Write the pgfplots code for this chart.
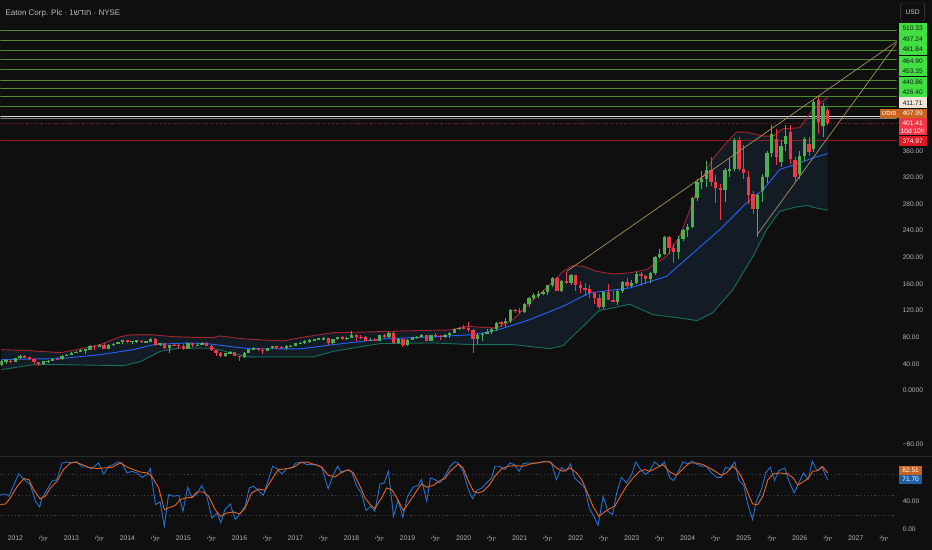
\documentclass[border=0pt]{standalone}
\usepackage{fontspec}
\setmainfont{Liberation Sans}
\usepackage{pgfplots}
\pgfplotsset{compat=1.18}
\usepackage{pgfplotstable}
\TeXXeTstate=1
\definecolor{bg}{HTML}{0F0F0F}
\definecolor{cup}{HTML}{4CAF50}
\definecolor{cdn}{HTML}{F23645}
\definecolor{bbup}{HTML}{A3262F}
\definecolor{bbmid}{HTML}{2962FF}
\definecolor{bblow}{HTML}{17705F}
\definecolor{bbfill}{HTML}{131B25}
\definecolor{hgreen}{HTML}{4F8A2C}
\definecolor{trend}{HTML}{A8915E}
\definecolor{tlabel}{HTML}{B2B5BE}
\definecolor{stk}{HTML}{2470D0}
\definecolor{std}{HTML}{E8651C}
\definecolor{lgreen}{HTML}{3FE03F}
\definecolor{pale}{HTML}{F3E4DA}
\definecolor{obox}{HTML}{C8641E}
\definecolor{rbox}{HTML}{F23645}
\definecolor{drbox}{HTML}{DD1A22}
\definecolor{redline}{HTML}{8B1E22}
\definecolor{sepc}{HTML}{2A2A2A}
\definecolor{dotc}{HTML}{3C3F47}
\definecolor{kbox}{HTML}{1F5FA8}
\newcommand\heb{\beginR יולי\endR}

\pgfplotstableread{
k o h l c
-3 38.5 46.0 37.0 44.8
-2 44.8 47.0 40.5 45.2
-1 45.2 46.0 41.5 43.5
0 43.5 49.5 43.0 49.0
1 49.0 53.0 48.0 52.2
2 52.2 54.0 48.7 49.8
3 49.8 50.5 45.5 48.2
4 48.2 48.5 39.5 42.5
5 42.5 43.0 36.5 39.6
6 39.6 44.5 38.0 44.0
7 44.0 46.5 42.0 44.8
8 44.8 49.0 44.0 47.3
9 47.3 50.0 45.5 47.0
10 47.0 53.0 46.0 52.5
11 52.5 55.0 51.5 54.2
12 54.2 58.0 53.5 57.2
13 57.2 60.0 56.0 58.5
14 58.5 62.0 57.5 61.3
15 61.3 63.0 55.5 61.6
16 61.6 69.0 60.5 67.0
17 67.0 69.0 60.5 65.8
18 65.8 70.5 65.0 69.0
19 69.0 71.0 62.5 63.2
20 63.2 69.5 62.5 68.8
21 68.8 72.0 66.5 70.5
22 70.5 73.5 69.5 72.7
23 72.7 76.5 70.5 76.1
24 76.1 76.5 71.0 73.2
25 73.2 75.0 69.5 74.5
26 74.5 76.5 72.0 75.1
27 75.1 75.5 71.5 72.6
28 72.6 75.0 71.0 73.7
29 73.7 79.0 73.0 77.2
30 77.2 79.5 67.7 67.9
31 67.9 71.5 66.5 70.9
32 70.9 71.5 62.5 63.4
33 63.4 69.0 57.0 68.4
34 68.4 69.5 66.5 67.9
35 67.9 70.5 62.5 67.6
36 67.6 69.5 61.5 63.1
37 63.1 71.5 62.5 71.1
38 71.1 71.5 66.0 67.9
39 67.9 71.0 67.0 68.7
40 68.7 72.5 68.0 71.7
41 71.7 72.5 67.0 67.5
42 67.5 69.0 59.5 60.6
43 60.6 61.5 52.5 57.1
44 57.1 58.0 50.0 51.3
45 51.3 57.0 50.5 55.9
46 55.9 59.0 55.5 58.1
47 58.1 58.5 51.5 52.0
48 52.0 52.5 44.5 50.6
49 50.6 57.5 48.5 57.1
50 57.1 63.0 56.5 62.6
51 62.6 65.0 60.5 63.3
52 63.3 64.0 59.5 61.6
53 61.6 63.5 55.5 59.7
54 59.7 64.0 59.0 63.4
55 63.4 67.5 62.5 66.6
56 66.6 67.5 62.5 65.7
57 65.7 67.0 62.5 63.8
58 63.8 68.0 61.0 67.0
59 67.0 69.0 66.0 67.1
60 67.1 72.0 66.8 70.8
61 70.8 73.0 69.5 71.6
62 71.6 75.5 70.5 74.1
63 74.1 77.0 72.0 75.6
64 75.6 78.0 74.5 77.5
65 77.5 79.5 76.0 77.8
66 77.8 80.0 76.5 78.3
67 78.3 78.5 69.0 71.8
68 71.8 77.0 70.5 76.8
69 76.8 81.0 75.5 80.0
70 80.0 81.5 76.5 78.0
71 78.0 81.0 76.5 79.0
72 79.0 89.8 78.5 84.0
73 84.0 85.0 74.0 80.7
74 80.7 83.5 77.0 79.9
75 79.9 81.5 74.0 75.0
76 75.0 79.0 74.5 76.6
77 76.6 79.0 73.8 74.7
78 74.7 84.0 74.0 83.2
79 83.2 84.5 79.0 79.8
80 79.8 87.5 79.5 86.7
81 86.7 89.0 70.5 71.7
82 71.7 79.0 70.5 76.8
83 76.8 77.5 65.0 68.7
84 68.7 77.0 67.5 76.2
85 76.2 81.0 75.5 80.3
86 80.3 82.0 78.0 80.6
87 80.6 85.0 80.0 82.8
88 82.8 84.0 74.0 74.5
89 74.5 84.0 74.0 83.3
90 83.3 86.5 79.5 82.2
91 82.2 83.0 76.0 80.7
92 80.7 85.0 78.5 83.2
93 83.2 87.5 79.0 87.1
94 87.1 93.0 86.0 92.5
95 92.5 95.5 91.0 94.7
96 94.7 98.0 92.0 94.5
97 94.5 102.5 88.5 90.7
98 90.7 92.0 56.5 77.7
99 77.7 86.0 70.5 83.6
100 83.6 86.5 75.0 85.0
101 85.0 93.0 84.5 87.5
102 87.5 94.0 85.5 93.1
103 93.1 103.0 89.0 102.2
104 102.2 105.0 96.0 101.6
105 101.6 109.0 96.0 103.8
106 103.8 122.0 101.0 121.1
107 121.1 123.0 117.0 120.1
108 120.1 123.5 115.0 117.6
109 117.6 131.0 116.0 130.2
110 130.2 141.0 126.0 138.3
111 138.3 146.0 136.0 142.9
112 142.9 150.0 139.0 145.2
113 145.2 151.0 143.0 148.2
114 148.2 158.5 143.5 158.0
115 158.0 170.0 156.0 168.6
116 168.6 171.0 149.0 149.3
117 149.3 166.0 148.0 164.8
118 164.8 178.0 160.0 162.0
119 162.0 175.7 159.0 172.8
120 172.8 173.0 150.0 158.3
121 158.3 165.0 146.0 154.3
122 154.3 162.0 142.0 151.8
123 151.8 158.0 139.0 145.8
124 145.8 148.0 130.0 138.6
125 138.6 144.5 122.5 126.0
126 126.0 150.0 123.0 148.4
127 148.4 159.5 136.0 136.7
128 136.7 150.0 133.0 133.4
129 133.4 152.0 129.0 150.1
130 150.1 165.0 146.0 163.5
131 163.5 169.0 153.5 157.0
132 157.0 166.0 155.0 162.0
133 162.0 178.0 160.0 175.0
134 175.0 178.0 157.0 171.3
135 171.3 174.0 160.0 167.0
136 167.0 178.0 162.0 176.0
137 176.0 202.0 174.0 201.0
138 201.0 212.0 197.0 205.0
139 205.0 231.5 203.0 230.6
140 230.6 232.0 205.0 213.3
141 213.3 220.0 191.0 208.0
142 208.0 232.0 197.0 227.7
143 227.7 242.0 224.0 240.8
144 240.8 250.0 231.0 246.0
145 246.0 291.0 244.0 289.0
146 289.0 318.0 284.0 312.7
147 312.7 329.0 303.0 318.3
148 318.3 345.0 306.0 331.0
149 331.0 350.0 307.0 313.6
150 313.6 323.0 282.0 304.8
151 304.8 310.0 256.0 300.5
152 300.5 334.0 283.0 330.5
153 330.5 349.0 320.0 333.0
154 333.0 379.0 330.0 376.0
155 376.0 380.0 330.0 332.0
156 332.0 369.0 318.0 326.0
157 320.0 330.0 280.0 293.0
158 295.0 300.0 265.0 272.0
159 272.0 296.0 231.0 294.0
160 300.0 325.0 283.0 321.0
161 321.0 359.0 311.0 357.0
162 357.0 399.0 350.0 385.0
163 378.0 392.0 338.0 350.0
164 343.0 376.0 335.0 367.0
165 370.0 399.0 360.0 382.0
166 388.0 399.0 340.0 347.0
167 346.0 350.0 315.0 320.0
168 325.0 360.0 318.0 352.0
169 352.0 380.0 345.0 377.0
170 370.0 380.0 352.0 358.0
171 362.0 436.0 358.0 433.0
172 436.0 442.0 385.0 403.0
173 397.0 432.0 380.0 427.0
174 421.0 424.0 398.0 401.4
}\candles

\pgfplotstableread{
k v
-3 61.6
3 60
9.6 57
13.2 61.6
18.2 69
22.5 81
24.6 83.6
29.6 83.6
33.9 81
38 80
42.4 79.6
43.9 82.1
48.2 78.1
53 76
57.4 74.6
61 79.6
65.3 84
68.1 87
75.3 88
82.4 89.5
88.8 90.5
93.1 91
96.7 96.6
100 95
103.1 94
106.6 106.6
110.2 131.7
114.5 159
117.3 179
119.4 187.7
121.6 186.7
124.5 179
128 175
131.6 176.7
135.2 181.7
139.5 201.7
142.3 231.7
144.5 271.8
146.6 312
149.3 347
152.3 372
154.5 388
156.6 388
160.2 382
162.3 382
164.4 393
168 394.5
170.9 422
174 441
}\bbupper

\pgfplotstableread{
k v
-3 46.5
3.9 47.5
9.6 48
18.2 54
25.3 61.6
29.6 69
36.7 71.6
41 70.6
46.7 65.6
50.3 63
61 62.6
68.1 69
78.8 77.6
88.8 80.5
98.1 84
103.1 90.5
110.2 106.6
117.3 126.6
123 146.7
131.6 154
139.5 171.6
145.2 206.8
150.9 241.7
156.6 281.8
160.2 301.8
163.7 331.8
168 341.9
170.9 349.4
174 355.6
}\bbbasis

\pgfplotstableread{
k v
-3 31.5
3.9 39
9.6 39
23.2 37.5
26.8 43.6
31 59
35.3 64
42.4 63.5
46.7 55.6
49.6 50.6
63.9 50.6
68.1 59
78.1 70.6
89.5 71.6
98.1 69
106.6 69
114.5 63
117.3 67.6
121.6 96.6
125 120
131.6 129.5
136.6 114
142.3 109
146 105
149.3 116.7
153.7 151.6
158 201.7
160.9 241.7
163.7 269
167.3 275.8
169.8 277.8
170.9 275
174 270.7
}\bblower

% band outline: upper band forward, then lower band backward (for the fill)
\pgfplotstableread{
k v
-3 61.6
3 60
9.6 57
13.2 61.6
18.2 69
22.5 81
24.6 83.6
29.6 83.6
33.9 81
38 80
42.4 79.6
43.9 82.1
48.2 78.1
53 76
57.4 74.6
61 79.6
65.3 84
68.1 87
75.3 88
82.4 89.5
88.8 90.5
93.1 91
96.7 96.6
100 95
103.1 94
106.6 106.6
110.2 131.7
114.5 159
117.3 179
119.4 187.7
121.6 186.7
124.5 179
128 175
131.6 176.7
135.2 181.7
139.5 201.7
142.3 231.7
144.5 271.8
146.6 312
149.3 347
152.3 372
154.5 388
156.6 388
160.2 382
162.3 382
164.4 393
168 394.5
170.9 422
174 441
174 270.7
170.9 275
169.8 277.8
167.3 275.8
163.7 269
160.9 241.7
158 201.7
153.7 151.6
149.3 116.7
146 105
142.3 109
136.6 114
131.6 129.5
125 120
121.6 96.6
117.3 67.6
114.5 63
106.6 69
98.1 69
89.5 71.6
78.1 70.6
68.1 59
63.9 50.6
49.6 50.6
46.7 55.6
42.4 63.5
35.3 64
31 59
26.8 43.6
23.2 37.5
9.6 39
3.9 39
-3 31.5
}\bbband

\pgfplotstableread{
k v
-3.2 50.5
-2.1 51.5
-1.4 48
0.7 81
1.4 76
3.2 65
4.3 40.6
5.2 32.3
5.7 45.6
6.8 57.9
7.8 70
8.9 72.6
10.0 97.2
11.1 98.7
12.1 97.2
13.2 98.7
14.3 91.3
15.3 91.3
16.4 88.8
17.8 97.2
18.9 81
20.0 92.3
21.0 94.7
22.1 98.7
22.8 97.2
23.9 82.5
25.0 84.9
26.0 82.5
27.1 76
28.2 80
28.9 88.8
30.0 35.7
31.0 39.7
31.9 3.8
32.8 50.5
33.9 48
35.0 49.5
35.9 25.9
36.9 61.3
37.8 45.6
38.9 51.5
39.9 63.8
41.0 48
42.1 16
43.2 23.4
44.0 8.7
44.9 28.3
46.0 36.7
47.1 13.6
48.1 21.9
49.2 33.3
50.1 60.3
51.0 62.8
52.1 56.4
53.1 49.5
54.2 72.6
55.1 92.3
56.0 88.8
57.1 81
58.1 88.8
59.2 89.8
60.1 97.2
61.3 98.7
62.4 94.7
63.5 94.7
64.5 94.7
65.6 90.8
67.0 59.3
68.1 80
69.0 92.3
69.9 82.5
71.0 86.4
72.0 84.9
73.1 62.8
74.2 51.5
75.1 26.9
76.1 33.3
77.0 25.9
78.1 66.2
79.0 67.7
79.9 84.9
81.0 18.5
82.0 42.1
83.0 17
84.0 48
85.2 61.3
86.3 64.3
87.0 72.6
88.1 40.6
88.9 75
89.9 72.6
90.9 67.7
92.0 77.5
93.1 92.3
94.1 98.7
94.8 97.2
95.9 84.9
96.9 60.3
97.9 44.6
98.8 56.4
99.9 60.3
100.9 67.7
102.0 75
102.7 92.3
103.8 92.3
104.8 87.4
105.9 97.2
106.9 94.7
107.9 84.9
108.8 96.2
109.8 97.2
110.9 97.2
112.0 97.2
113.1 99.7
114.1 99.7
114.8 97.2
115.9 72.6
117.0 90.8
117.9 84.9
118.9 95.7
119.8 75
120.9 67.7
122.0 60.3
122.9 30.8
123.9 18.5
124.8 5.2
125.9 48
126.9 25.9
127.9 21
128.8 53
129.8 76
130.9 67.7
132.0 80
132.9 98.7
133.9 87.4
135.0 80
135.9 85.9
136.9 98.7
138.0 92.3
139.0 98.7
140.2 75
141.0 71.1
142.2 87.4
143.0 98.7
144.1 95.7
145.0 99.7
145.9 95.7
146.9 92.3
148.0 92.3
149.1 82.5
150.2 76
151.2 76
152.1 90.8
153.0 88.8
154.1 98.7
154.9 72.6
156.0 64.3
156.9 35.7
157.9 13.6
158.7 40.6
159.8 57.9
160.7 82.5
161.7 90.8
162.6 71.1
163.5 85.9
164.8 89.8
165.7 70.2
166.8 53
167.8 67.7
168.8 82.5
169.8 72.6
170.7 99.7
171.7 85.9
172.8 90.8
174.0 71.7
}\stochk

\pgfplotstableread{
k v
-3.2 35.7
-2.1 36.7
-1.1 45.6
0.4 62.8
1.8 74.1
2.9 72.6
3.9 57.9
5.3 44.1
6.4 48
7.5 60.3
8.9 70
10.3 87.4
11.8 97.2
12.8 98.7
14.3 94.7
15.7 90.8
17.5 88.8
18.9 89.8
20.7 90.8
22.5 97.2
23.9 91.3
25.3 87.4
26.7 83.9
28.2 82.5
29.2 77.5
30.7 60.3
31.9 28.3
33.2 31.8
34.2 34.3
35.3 43.1
36.4 45.6
37.8 46.5
38.9 54.4
40.3 54.4
41.4 48
42.8 28.3
43.9 18.5
45.3 23.4
46.7 24.9
48.1 21.9
49.2 30.8
50.6 53
52.1 58.8
53.5 56.9
54.9 72.6
56.3 87.4
57.8 88.4
59.6 90.8
61.0 97.2
62.4 98.7
64.2 94.7
65.6 91.3
67.0 79
68.5 76.5
69.9 83.9
71.3 87.4
72.4 82.5
73.5 67.7
74.9 45.6
76.0 35.7
77.0 29.8
78.5 46.5
79.5 60.3
80.6 57.9
81.7 45.6
83.1 26.9
84.5 40.6
85.9 55.4
87.0 66.2
88.1 61.3
89.5 64.3
90.9 71.1
92.0 74.1
93.1 84.9
94.9 95.7
95.9 89.8
96.9 72.6
98.1 55.4
99.1 52.9
100.2 55.4
101.6 65.2
102.7 77.5
104.2 88.8
105.6 92.3
107.0 93.3
108.8 92.3
110.2 95.7
111.6 97.2
113.1 98.7
114.5 98.7
115.9 89.8
117.3 84.9
118.8 89.8
120.2 82.5
121.3 72.6
122.7 50.5
123.7 33.3
125.0 18.5
126.2 24.9
127.3 29.8
128.4 33.3
129.8 50.5
130.9 62.8
132.3 75
133.7 84.9
134.8 87.4
135.9 84.9
137.3 89.8
138.7 94.7
140.2 83.9
141.6 79
143.0 88.8
144.4 97.2
145.9 97.2
147.3 94.7
148.7 89.8
150.1 83.9
151.2 79
152.3 82.5
153.7 92.3
154.8 84.9
155.8 72.6
156.9 52.9
157.9 36.7
159.0 35.7
160.1 48
161.2 72.6
162.3 81
163.7 82.5
165.5 81
166.6 75
167.6 64.3
168.7 69.2
169.8 74.1
170.8 84.9
171.9 85.9
172.8 92.3
174.0 82.5
}\stochd

\pgfplotsset{
  candle/.style n args={2}{draw=none, no markers, forget plot,
    error bars/.cd, y dir=both, y explicit, error mark=none,
    error bar style={line width=#2, draw=#1, solid}},
  hline/.style={forget plot, no markers, line width=0.8pt, #1},
}

\begin{document}
\begin{tikzpicture}[x=1pt,y=1pt]
\fill[bg] (0,0) rectangle (932,550);
\draw[sepc, line width=0.8pt] (0,93) -- (932,93);

% ---------- main price pane ----------
\begin{axis}[
  at={(0pt,94pt)}, anchor=south west, scale only axis,
  width=897pt, height=456pt,
  xmin=-3.21, xmax=188.76, ymin=-97.5, ymax=586.2,
  axis line style={draw=none}, tick style={draw=none},
  xtick=\empty,
  ytick={360,320,280,240,200,160,120,80,40,0,-80},
  yticklabels={360.00,320.00,280.00,240.00,200.00,160.00,120.00,80.00,40.00,0.0000,−80.00},
  ytick pos=right, yticklabel pos=right,
  yticklabel style={anchor=west, xshift=6pt, inner sep=0pt,
    font=\fontsize{6.6}{8}\selectfont, text=tlabel},
  clip=true,
]
% Bollinger band fill (closed outline of the band)
\addplot[fill=bbfill, draw=none, no markers, forget plot] table[x=k, y=v]{\bbband} -- cycle;
% horizontal levels
\addplot[hline=hgreen] coordinates {(-3.21,540) (188.76,540)};
\addplot[hline=hgreen] coordinates {(-3.21,526) (188.76,526)};
\addplot[hline=hgreen] coordinates {(-3.21,510.33) (188.76,510.33)};
\addplot[hline=hgreen] coordinates {(-3.21,497.24) (188.76,497.24)};
\addplot[hline=hgreen] coordinates {(-3.21,481.84) (188.76,481.84)};
\addplot[hline=hgreen] coordinates {(-3.21,464.90) (188.76,464.90)};
\addplot[hline=hgreen] coordinates {(-3.21,453.35) (188.76,453.35)};
\addplot[hline=hgreen] coordinates {(-3.21,440.86) (188.76,440.86)};
\addplot[hline=hgreen] coordinates {(-3.21,426.40) (188.76,426.40)};
\addplot[hline={color=white!85!black}] coordinates {(-3.21,411.71) (188.76,411.71)};
\addplot[hline={color=gray}] coordinates {(-3.21,407.99) (188.76,407.99)};
\addplot[hline={color=cdn!60!black, dotted}] coordinates {(-3.21,401.41) (188.76,401.41)};
\addplot[hline=redline] coordinates {(-3.21,374.97) (188.76,374.97)};
% Bollinger lines
\addplot[forget plot, no markers, draw=bbup, line width=0.9pt] table[x=k, y=v]{\bbupper};
\addplot[forget plot, no markers, draw=bblow, line width=0.9pt] table[x=k, y=v]{\bblower};
\addplot[forget plot, no markers, draw=bbmid, line width=0.9pt] table[x=k, y=v]{\bbbasis};
% candles: wicks
\addplot[candle={cup}{0.8pt}] table[x=k,
  y expr={\thisrow{c}>=\thisrow{o} ? (\thisrow{h}+\thisrow{l})/2 : nan},
  y error expr={(\thisrow{h}-\thisrow{l})/2}]{\candles};
\addplot[candle={cdn}{0.8pt}] table[x=k,
  y expr={\thisrow{c}<\thisrow{o} ? (\thisrow{h}+\thisrow{l})/2 : nan},
  y error expr={(\thisrow{h}-\thisrow{l})/2}]{\candles};
% candles: bodies
\addplot[candle={cup}{3.3pt}] table[x=k,
  y expr={\thisrow{c}>=\thisrow{o} ? (\thisrow{o}+\thisrow{c})/2 : nan},
  y error expr={max(abs(\thisrow{c}-\thisrow{o})/2,0.6)}]{\candles};
\addplot[candle={cdn}{3.3pt}] table[x=k,
  y expr={\thisrow{c}<\thisrow{o} ? (\thisrow{o}+\thisrow{c})/2 : nan},
  y error expr={max(abs(\thisrow{c}-\thisrow{o})/2,0.6)}]{\candles};
% rising wedge trend lines
\addplot[forget plot, no markers, draw=trend, line width=0.7pt] coordinates {(118.1,179) (188.8,524)};
\addplot[forget plot, no markers, draw=trend, line width=0.7pt] coordinates {(158.9,234) (188.8,522)};
\end{axis}

% ---------- Stoch RSI pane ----------
\begin{axis}[
  at={(0pt,20pt)}, anchor=south west, scale only axis,
  width=897pt, height=72pt,
  xmin=-3.21, xmax=188.76, ymin=-1.1, ymax=105.1,
  axis line style={draw=none}, tick style={draw=none},
  ytick={0,40}, yticklabels={0.00,40.00},
  ytick pos=right, yticklabel pos=right,
  yticklabel style={anchor=west, xshift=6pt, inner sep=0pt,
    font=\fontsize{6.6}{8}\selectfont, text=tlabel},
  xtick={0,6,...,186},
  xticklabels={2012,\heb,2013,\heb,2014,\heb,2015,\heb,2016,\heb,2017,\heb,2018,\heb,2019,\heb,2020,\heb,2021,\heb,2022,\heb,2023,\heb,2024,\heb,2025,\heb,2026,\heb,2027,\heb},
  xticklabel style={anchor=north, yshift=-6pt, inner sep=0pt,
    font=\fontsize{6.8}{8}\selectfont, text=tlabel},
  clip=true,
]
\addplot[hline={dotc, dash pattern=on 1.2pt off 2.4pt}] coordinates {(-3.21,80) (188.76,80)};
\addplot[hline={dotc, dash pattern=on 1.2pt off 2.4pt}] coordinates {(-3.21,50) (188.76,50)};
\addplot[hline={dotc, dash pattern=on 1.2pt off 2.4pt}] coordinates {(-3.21,20) (188.76,20)};
\addplot[forget plot, no markers, draw=stk, line width=0.9pt] table[x=k, y=v]{\stochk};
\addplot[forget plot, no markers, draw=std, line width=0.9pt] table[x=k, y=v]{\stochd};
\end{axis}

% ---------- title and price-scale labels ----------
\node[anchor=west, inner sep=0pt, text=tlabel!90!white, font=\fontsize{8}{9}\selectfont]
  at (5,537) {Eaton Corp. Plc · 1\beginR חודש\endR{} · NYSE};

\draw[draw=white!27!black, fill=bg, rounded corners=2pt] (901,547) rectangle (925,529);
\node[text=white!82!black, font=\fontsize{6.6}{8}\selectfont, inner sep=0pt] at (913,538) {USD};

\begin{scope}[every node/.style={inner sep=0pt, font=\fontsize{6.6}{8}\selectfont}]
\fill[lgreen] (899,527.3) rectangle (927.5,495.2);
\fill[lgreen] (899,494.2) rectangle (927.5,474.2);
\fill[lgreen] (899,473.2) rectangle (927.5,453.4);
\node[text=black!90] at (913,521.7) {510.33};
\node[text=black!90] at (913,511.1) {497.24};
\node[text=black!90] at (913,500.4) {481.84};
\node[text=black!90] at (913,489.0) {464.90};
\node[text=black!90] at (913,479.0) {453.35};
\node[text=black!90] at (913,467.8) {440.86};
\node[text=black!90] at (913,458.1) {426.40};
\fill[pale] (899,452.5) rectangle (927.5,441.7);
\node[text=black!90] at (913,447.0) {411.71};
\fill[obox] (880,440.7) rectangle (927.5,431.7);
\node[text=white] at (889.5,436.2) {\beginR פוסט\endR};
\node[text=white] at (913,436.2) {407.99};
\fill[rbox] (899,431.5) rectangle (927.5,414.7);
\node[text=white] at (913,427.0) {401.41};
\node[text=white] at (913,419.0) {10d 10h};
\fill[drbox] (899,413.5) rectangle (927.5,403.5);
\node[text=white] at (913,408.5) {374.97};
\fill[obox] (899.3,84) rectangle (922.7,75);
\node[text=white] at (911,79.5) {82.51};
\fill[kbox] (899.3,75) rectangle (922.7,65.5);
\node[text=white] at (911,70.3) {71.70};
\end{scope}
\end{tikzpicture}
\end{document}
